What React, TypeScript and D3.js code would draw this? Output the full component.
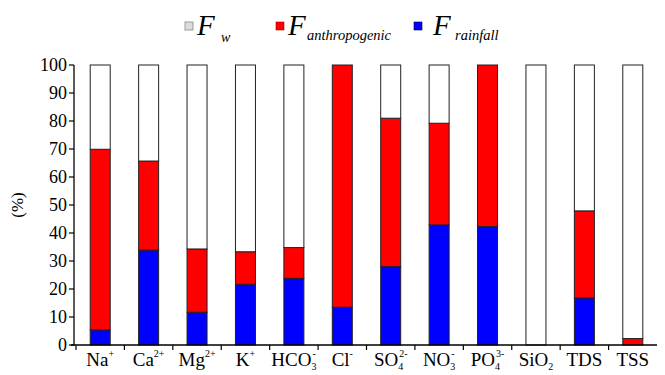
import React from "react";
import * as d3 from "d3";

const categories = ["Na", "Ca", "Mg", "K", "HCO3", "Cl", "SO4", "NO3", "PO4", "SiO2", "TDS", "TSS"];
const labelBase = ["Na", "Ca", "Mg", "K", "HCO", "Cl", "SO", "NO", "PO", "SiO", "TDS", "TSS"];
const labelSub = ["", "", "", "", "3", "", "4", "3", "4", "2", "", ""];
const labelSup = ["+", "2+", "2+", "+", "-", "-", "2-", "-", "3-", "", "", ""];

const rainfall = [5.4, 33.9, 11.7, 21.7, 23.8, 13.5, 28.0, 42.9, 42.3, 0, 16.8, 0];
const anthropogenic = [64.5, 31.8, 22.6, 11.6, 11.0, 86.5, 53.0, 36.3, 57.7, 0, 31.1, 2.3];
const fw = [30.1, 34.3, 65.7, 66.7, 65.2, 0, 19.0, 20.8, 0, 100, 52.1, 97.7];

const yTicks = [0, 10, 20, 30, 40, 50, 60, 70, 80, 90, 100];
const seriesKeys = ["rainfall", "anthropogenic", "fw"];

const W = 665;
const H = 375;
const colors: Record<string, string> = { rainfall: "#0000ff", anthropogenic: "#ff0000", fw: "#ffffff" };
const FONT = "'Liberation Serif', 'Times New Roman', 'DejaVu Serif', serif";

export default function App() {
  const x = d3.scaleBand<string>().domain(categories).range([76, 657]).padding(0);
  const y = d3.scaleLinear().domain([0, 100]).range([345, 65]);
  const rows = categories.map((c, i) => ({ cat: c, rainfall: rainfall[i], anthropogenic: anthropogenic[i], fw: fw[i] }));
  const stacked = d3.stack<any>().keys(seriesKeys)(rows);
  const barW = 20;
  const axisX = 74;
  const txt = { fontFamily: FONT };

  return (
    <div style={{ position: "absolute", left: 0, top: 0, width: W, height: H, background: "#fff" }}>
      <svg width={W} height={H} style={{ display: "block", fontFamily: FONT }}>
        <rect width={W} height={H} fill="#fff" />
        {/* legend */}
        <g style={txt}>
          <rect x={185} y={22} width={8} height={8} fill="#dcdcdc" stroke="#888" strokeWidth={0.8} />
          <text x={197} y={35} fontSize={29} fontStyle="italic" style={txt}>F</text>
          <text x={221} y={42} fontSize={14} fontStyle="italic" style={txt}>w</text>
          <rect x={276} y={22} width={8} height={8} fill="#ff0000" stroke="#900" strokeWidth={0.6} />
          <text x={288} y={35} fontSize={29} fontStyle="italic" style={txt}>F</text>
          <text x={307} y={40} fontSize={14.5} fontStyle="italic" style={txt}>anthropogenic</text>
          <rect x={414} y={22} width={8} height={8} fill="#0000ff" stroke="#003" strokeWidth={0.6} />
          <text x={433} y={35} fontSize={29} fontStyle="italic" style={txt}>F</text>
          <text x={455} y={40} fontSize={14.5} fontStyle="italic" style={txt}>rainfall</text>
        </g>
        {/* bars */}
        {stacked.map((s) => (
          <g key={s.key}>
            {s.map((d, i) => {
              const h = y(d[0]) - y(d[1]);
              if (h <= 0.01) return null;
              const cx = (x(categories[i]) as number) + x.bandwidth() / 2;
              return (
                <rect
                  key={i}
                  x={cx - barW / 2}
                  y={y(d[1])}
                  width={barW}
                  height={h}
                  fill={colors[s.key]}
                  stroke="#222"
                  strokeWidth={1}
                />
              );
            })}
          </g>
        ))}
        {/* y axis */}
        <line x1={axisX} x2={axisX} y1={y(100)} y2={y(0)} stroke="#000" strokeWidth={1.3} />
        {yTicks.map((t) => (
          <g key={t}>
            <line x1={axisX - 5} x2={axisX} y1={y(t)} y2={y(t)} stroke="#000" strokeWidth={1.2} />
            <text x={axisX - 7} y={y(t) + 6} fontSize={18} textAnchor="end" style={txt}>{t}</text>
          </g>
        ))}
        <text transform={`translate(23,205) rotate(-90)`} fontSize={17} textAnchor="middle" style={txt}>(%)</text>
        {/* x axis */}
        <line x1={71} x2={657} y1={y(0)} y2={y(0)} stroke="#000" strokeWidth={1.5} />
        {categories.map((c) => (
          <line key={c} x1={x(c) as number} x2={x(c) as number} y1={y(0)} y2={y(0) + 5} stroke="#000" strokeWidth={1.2} />
        ))}
        {categories.map((c, i) => {
          const cx = (x(c) as number) + x.bandwidth() / 2;
          return (
            <text key={c} x={cx} y={366} fontSize={19} textAnchor="middle" style={txt}>
              {labelBase[i]}
              {labelSub[i] ? <tspan fontSize={10} dy={4}>{labelSub[i]}</tspan> : null}
              {labelSup[i] ? (
                <tspan fontSize={10} dx={labelSub[i] ? -4 : 0} dy={labelSub[i] ? -13 : -9}>{labelSup[i]}</tspan>
              ) : null}
            </text>
          );
        })}
      </svg>
    </div>
  );
}
